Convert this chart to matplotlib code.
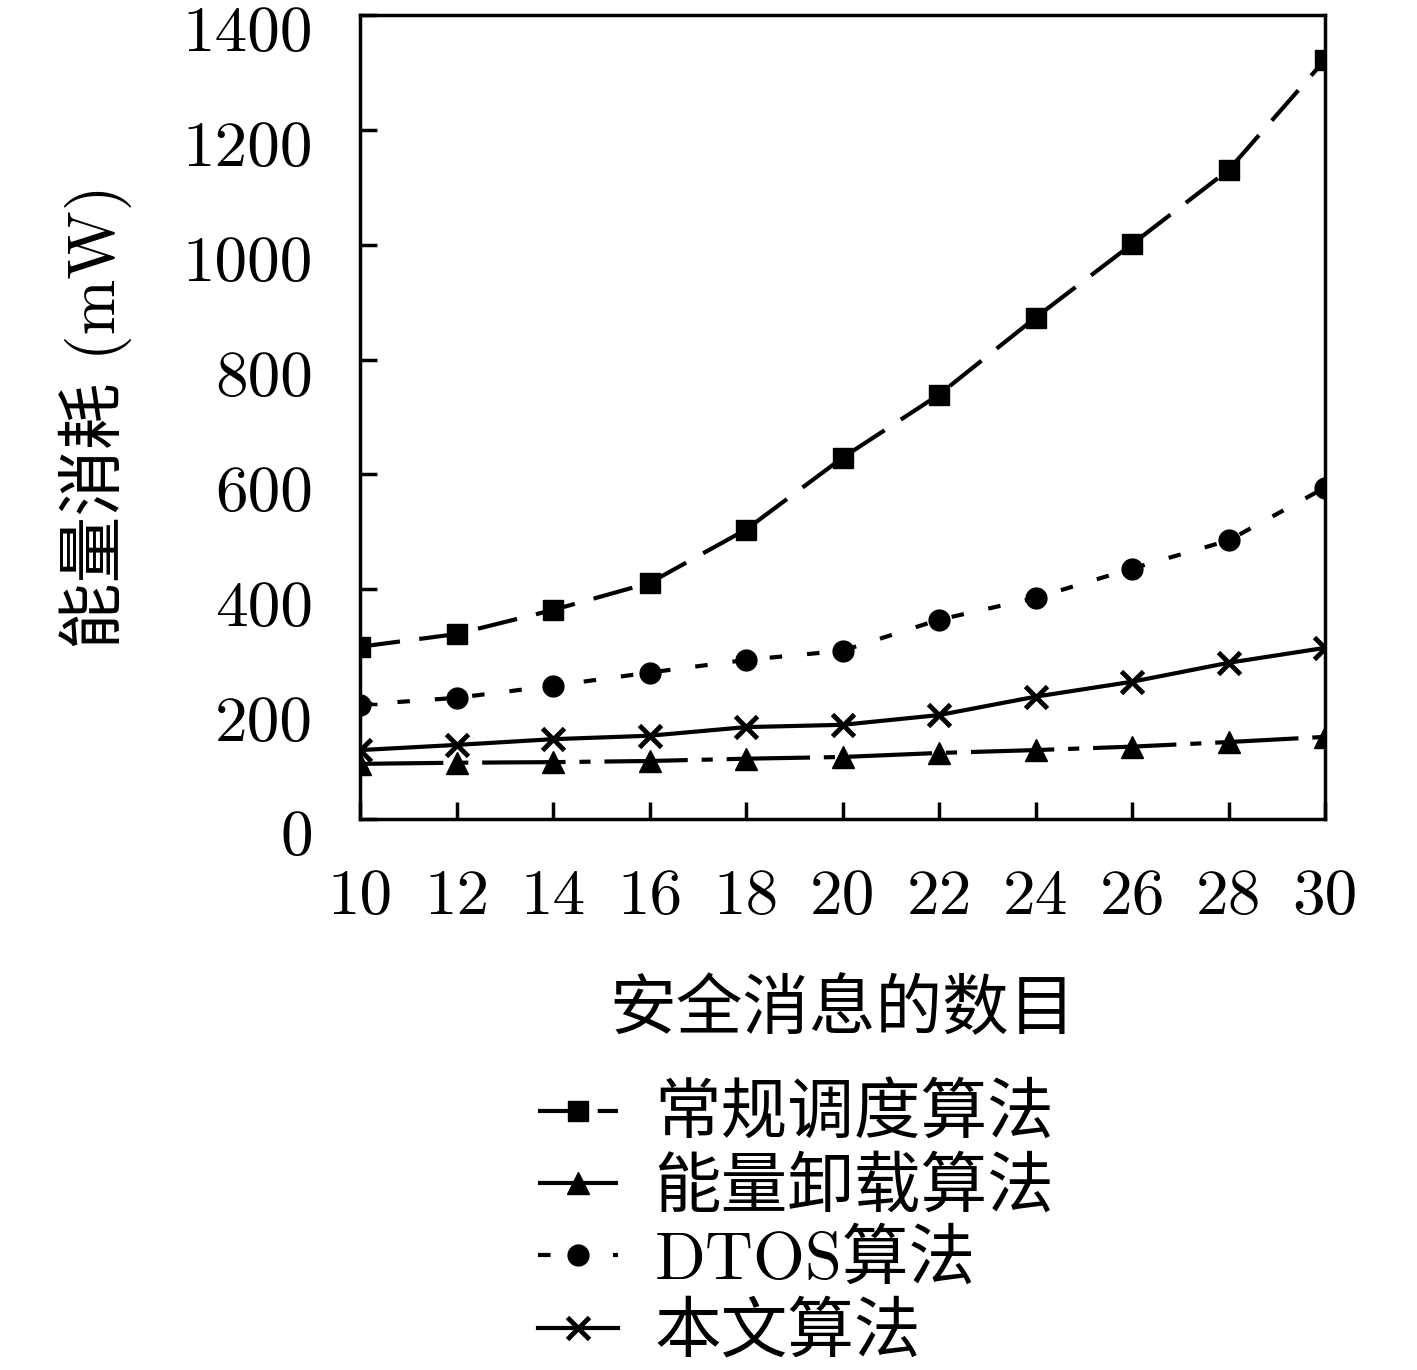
import matplotlib
matplotlib.use("Agg")
import matplotlib.pyplot as plt
import matplotlib.transforms as mtransforms

plt.rcParams['font.family'] = ['cmr10', 'Noto Sans CJK SC']
plt.rcParams['lines.scale_dashes'] = False
plt.rcParams['axes.unicode_minus'] = False

msg_counts = [10, 12, 14, 16, 18, 20, 22, 24, 26, 28, 30]
conventional = [300, 322, 364, 411, 504, 629, 739, 873, 1001, 1130, 1322]
offload = [96, 98, 99, 101, 105, 108, 115, 120, 126, 134, 143]
dtos = [199, 211, 232, 255, 277, 293, 347, 385, 436, 485, 577]
proposed = [120, 129, 139, 145, 160, 164, 181, 213, 239, 272, 298]
names = ['常规调度算法', '能量卸载算法', 'DTOS算法', '本文算法']

fig = plt.figure(figsize=(14.17, 13.7), dpi=100)
ax = fig.add_axes([360 / 1417, 1 - 819 / 1370, 965 / 1417, 804 / 1370])

lw = 3
ax.plot(msg_counts, conventional, color='black', lw=lw, marker='s', ms=14,
        dashes=(29, 14), label=names[0])
ax.plot(msg_counts, offload, color='black', lw=lw, marker='^', ms=16,
        dashes=(60, 10, 8, 10), label=names[1])
ax.plot(msg_counts, dtos, color='black', lw=lw, marker='o', ms=15,
        dashes=(9, 18), label=names[2])
ax.plot(msg_counts, proposed, color='black', lw=lw, marker='x', ms=16, mew=3.5,
        label=names[3])

ax.set_xlim(10, 30)
ax.set_ylim(0, 1400)
ax.set_xticks(msg_counts)
ax.set_yticks(range(0, 1401, 200))
ax.tick_params(direction='in', length=12, width=2.5, labelsize=47,
               top=False, right=False)
ax.tick_params(axis='y', pad=34)
ax.tick_params(axis='x', pad=36)
for s in ax.spines.values():
    s.set_linewidth(2.5)

# y tick labels sit a little below their ticks in the reference
shift = mtransforms.ScaledTranslation(0, -0.14, fig.dpi_scale_trans)
for lab in ax.get_yticklabels():
    lab.set_transform(lab.get_transform() + shift)

ax.set_xlabel('安全消息的数目', fontsize=48, labelpad=38)
ax.set_ylabel('能量消耗 (mW)', fontsize=48, labelpad=36)

fig.legend(loc='upper left', bbox_to_anchor=(538 / 1417, 1 - 1085 / 1370),
           frameon=False, fontsize=48, handlelength=1.2, handletextpad=0.55,
           labelspacing=0.16, borderpad=0, borderaxespad=0)

fig.savefig('out.png', dpi=100)
